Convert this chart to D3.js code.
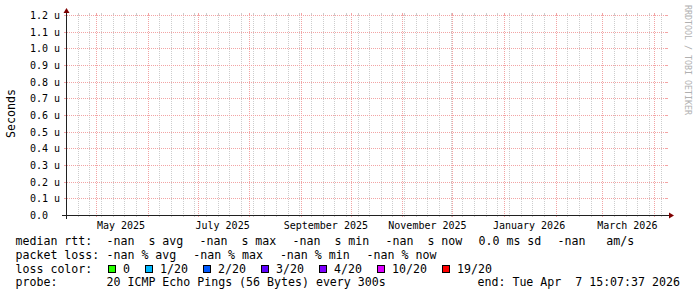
<!DOCTYPE html>
<html><head><meta charset="utf-8">
<script src="https://cdn.jsdelivr.net/npm/d3@7"></script>
<style>
body{margin:0;background:#fff}
svg{display:block}
text{font-family:"DejaVu Sans Mono",monospace;white-space:pre}
</style>
</head><body>
<svg id="c" width="697" height="297"></svg>
<script>
// ---- data ----
const yTickValues = [0, 0.1e-6, 0.2e-6, 0.3e-6, 0.4e-6, 0.5e-6, 0.6e-6, 0.7e-6, 0.8e-6, 0.9e-6, 1.0e-6, 1.1e-6, 1.2e-6];
const yTickLabels = ["0.0", "0.1 u", "0.2 u", "0.3 u", "0.4 u", "0.5 u", "0.6 u", "0.7 u", "0.8 u", "0.9 u", "1.0 u", "1.1 u", "1.2 u"];
const yDomain = [0, 1.2e-6];
const xDomain = [new Date(2025, 3, 12, 23, 44), new Date(2026, 3, 8, 5, 3)];
const xLabelMonths = [new Date(2025, 4, 1), new Date(2025, 6, 1), new Date(2025, 8, 1), new Date(2025, 10, 1), new Date(2026, 0, 1), new Date(2026, 2, 1)];
const xLabelTexts = ["May 2025", "July 2025", "September 2025", "November 2025", "January 2026", "March 2026"];
const medianRow = ["-nan  s avg", "-nan  s max", "-nan  s min", "-nan  s now", "0.0 ms sd", "-nan   am/s"];
const lossRow = ["-nan % avg", "-nan % max", "-nan % min", "-nan % now"];
const lossColorLabels = ["0", "1/20", "2/20", "3/20", "4/20", "10/20", "19/20"];
const lossColors = ["#26ff00", "#00b8ff", "#0059ff", "#5e00ff", "#7e00ff", "#dd00ff", "#ff0000"];
const rowLabels = ["median rtt:", "packet loss:", "loss color:", "probe:"];
const probeText = "20 ICMP Echo Pings (56 Bytes) every 300s";
const endText = "end: Tue Apr  7 15:07:37 2026";
const yUnitLabel = "Seconds";
const watermark = "RRDTOOL / TOBI OETIKER";

// ---- layout ----
const X0 = 66, XS = 600, Y0 = 215, YS = 200;
const CW = 7; // legend char width
const svg = d3.select("#c");
const x = d3.scaleTime().domain(xDomain).range([X0, X0 + XS]);
const y = d3.scaleLinear().domain(yDomain).range([Y0, Y0 - YS]);
const px = v => Math.round(v) + 0.5;

const minorCol = "#cdcdcd", majorCol = "#f2a4a4";
const grid = svg.append("g").attr("shape-rendering", "crispEdges");

// minor vertical grid: weekly (Sundays)
const months = d3.timeMonth.range(xDomain[0], xDomain[1]);
const monthSet = new Set(months.map(d => +d));
const weeks = d3.timeSunday.range(xDomain[0], xDomain[1]).filter(d => !monthSet.has(+d));
function vline(d, col) {
  const xx = px(x(d));
  grid.append("line").attr("x1", xx).attr("x2", xx).attr("y1", Y0 - YS).attr("y2", Y0)
    .attr("stroke", col).attr("stroke-dasharray", "1,1");
  grid.append("line").attr("x1", xx).attr("x2", xx).attr("y1", Y0 - YS - 2).attr("y2", Y0 - YS).attr("stroke", col);
  grid.append("line").attr("x1", xx).attr("x2", xx).attr("y1", Y0).attr("y2", Y0 + 2).attr("stroke", col);
}
weeks.forEach(d => vline(d, minorCol));
months.forEach(d => vline(d, majorCol));

// horizontal major grid
yTickValues.forEach(v => {
  const yy = px(y(v));
  grid.append("line").attr("x1", X0 + 1).attr("x2", X0 + XS).attr("y1", yy).attr("y2", yy)
    .attr("stroke", majorCol).attr("stroke-dasharray", "1,1");
  grid.append("line").attr("x1", X0 - 2).attr("x2", X0).attr("y1", yy).attr("y2", yy).attr("stroke", majorCol);
  grid.append("line").attr("x1", X0 + XS).attr("x2", X0 + XS + 2).attr("y1", yy).attr("y2", yy).attr("stroke", majorCol);
});

// y tick labels
svg.append("g").selectAll("text").data(yTickValues).join("text")
  .attr("x", 30).attr("y", v => y(v) + 3.9)
  .attr("font-size", "10px").attr("fill", "#000")
  .text((v, i) => yTickLabels[i]);

// x labels (centered mid-month)
svg.append("g").selectAll("text").data(xLabelMonths).join("text")
  .attr("x", d => x(d3.timeDay.offset(d, 15)))
  .attr("y", 228.5).attr("text-anchor", "middle")
  .attr("font-size", "10px").attr("fill", "#000")
  .text((d, i) => xLabelTexts[i]);

// axes
const axc = "#202020", arc = "#7f0000";
const ay = Y0 + 0.5, ax = X0 + 0.5;
svg.append("line").attr("x1", X0 - 4).attr("x2", X0 + XS + 4).attr("y1", ay).attr("y2", ay).attr("stroke", axc);
svg.append("line").attr("x1", ax).attr("x2", ax).attr("y1", Y0 + 4).attr("y2", Y0 - YS - 4).attr("stroke", axc);
svg.append("path").attr("d", `M${X0 + XS + 3},${ay - 3}L${X0 + XS + 3},${ay + 3}L${X0 + XS + 8},${ay}Z`).attr("fill", arc);
svg.append("path").attr("d", `M${ax - 3},${Y0 - YS - 2}L${ax + 3},${Y0 - YS - 2}L${ax},${Y0 - YS - 7}Z`).attr("fill", arc);

// unit label
svg.append("text").attr("transform", "translate(15,113.5) rotate(-90)")
  .attr("text-anchor", "middle").attr("font-size", "11.6px").attr("fill", "#000").text(yUnitLabel);

// watermark
svg.append("text").attr("transform", "translate(684.5,5) rotate(90)")
  .attr("font-size", "8.3px").attr("fill", "#b0b0b0").text(watermark);

// legend
const LF = "11.6px";
const rowY = [245, 258.8, 272.6, 286.4];
const lg = svg.append("g").attr("font-size", LF).attr("fill", "#000");
rowLabels.forEach((t, i) => lg.append("text").attr("x", 15.5).attr("y", rowY[i]).text(t));
const valX = 15.5 + 13 * CW;
let cx = valX;
medianRow.forEach(t => { lg.append("text").attr("x", cx).attr("y", rowY[0]).text(t); cx += t.length * CW + 16; });
cx = valX;
lossRow.forEach(t => { lg.append("text").attr("x", cx).attr("y", rowY[1]).text(t); cx += t.length * CW + 16.7; });
cx = 108;
lossColorLabels.forEach((t, i) => {
  lg.append("rect").attr("x", cx + 0.5).attr("y", 265.5).attr("width", 7).attr("height", 7)
    .attr("fill", lossColors[i]).attr("stroke", "#000").attr("stroke-width", 1);
  lg.append("text").attr("x", cx + 15).attr("y", rowY[2]).text(t);
  cx += 15 + t.length * CW + 15;
});
lg.append("text").attr("x", valX).attr("y", rowY[3]).text(probeText);
lg.append("text").attr("x", 477.5).attr("y", rowY[3]).text(endText);
</script>
</body></html>
